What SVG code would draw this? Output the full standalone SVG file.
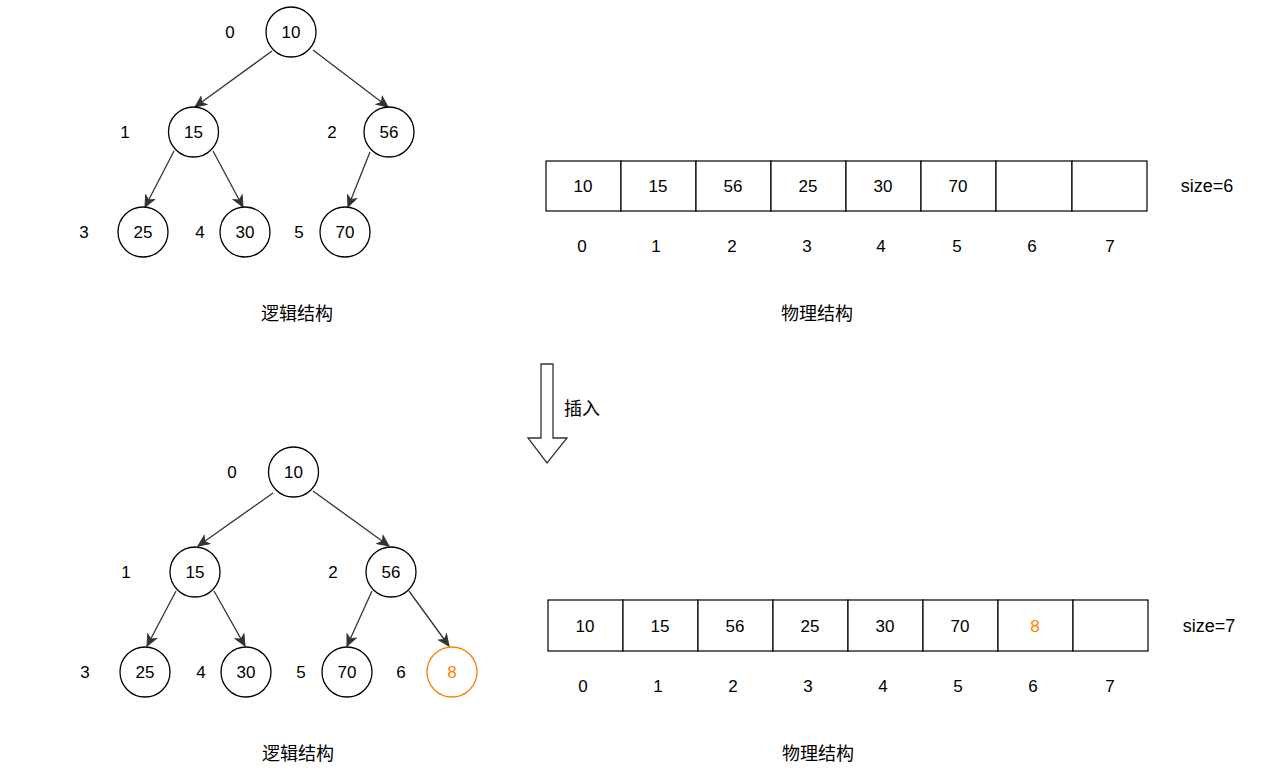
<svg xmlns="http://www.w3.org/2000/svg" width="1283" height="783" viewBox="0 0 1283 783">
<style>
.n circle{fill:#fff;stroke:#000;stroke-width:1.3}
.o circle{fill:#fff;stroke:#FF8000;stroke-width:1.3}
text{font-family:"Liberation Sans",Arial,sans-serif;font-size:17px;text-anchor:middle;dominant-baseline:central;fill:#000}
.o text,.orange{fill:#FF8000}
.cn{font-family:"Noto Sans CJK SC",sans-serif;font-size:18px}
.sz{font-size:18px}
.cell rect{fill:#fff;stroke:#000;stroke-width:1.2}
#edges line{stroke:#333;stroke-width:1.3;marker-end:url(#ah)}
</style>
<defs>
<marker id="ah" markerUnits="userSpaceOnUse" markerWidth="14" markerHeight="12" viewBox="0 0 14 12" refX="12" refY="6" orient="auto">
<path d="M12,6 L1,1 L4,6 L1,11 Z" fill="#333" stroke="#333" stroke-width="1"/>
</marker>
</defs>
<rect width="1283" height="783" fill="#fff"/>

<g id="edges">
<line x1="272" y1="51" x2="195" y2="107"/>
<line x1="313" y1="50" x2="388" y2="107"/>
<line x1="174" y1="151" x2="145" y2="207"/>
<line x1="213" y1="151" x2="243" y2="207"/>
<line x1="370" y1="152" x2="348" y2="207"/>
<line x1="273" y1="493" x2="198" y2="546"/>
<line x1="313" y1="491" x2="389" y2="546"/>
<line x1="176" y1="591" x2="147" y2="646"/>
<line x1="214" y1="591" x2="245" y2="646"/>
<line x1="372" y1="591" x2="347" y2="646"/>
<line x1="409" y1="591" x2="449" y2="646"/>
</g>

<!-- top tree -->
<g id="t1-n10" class="n"><circle cx="291" cy="32" r="25"/><text x="291" y="32">10</text></g>
<g id="t1-n15" class="n"><circle cx="193.5" cy="132" r="25"/><text x="193.5" y="132">15</text></g>
<g id="t1-n56" class="n"><circle cx="389" cy="132" r="25"/><text x="389" y="132">56</text></g>
<g id="t1-n25" class="n"><circle cx="143" cy="232" r="25"/><text x="143" y="232">25</text></g>
<g id="t1-n30" class="n"><circle cx="245" cy="232" r="25"/><text x="245" y="232">30</text></g>
<g id="t1-n70" class="n"><circle cx="345" cy="232" r="25"/><text x="345" y="232">70</text></g>
<g id="t1-idx">
<text x="230" y="32">0</text>
<text x="125" y="132">1</text>
<text x="332" y="132">2</text>
<text x="84" y="232">3</text>
<text x="200" y="232">4</text>
<text x="299" y="232">5</text>
</g>
<text class="cn" x="297" y="312">逻辑结构</text>

<!-- top array -->
<g id="a1" class="cell">
<rect x="546" y="161" width="75" height="50"/>
<rect x="621" y="161" width="75" height="50"/>
<rect x="696" y="161" width="75" height="50"/>
<rect x="771" y="161" width="75" height="50"/>
<rect x="846" y="161" width="75" height="50"/>
<rect x="921" y="161" width="75" height="50"/>
<rect x="996" y="161" width="76" height="50"/>
<rect x="1072" y="161" width="75" height="50"/>
<text x="583" y="186">10</text>
<text x="658" y="186">15</text>
<text x="733" y="186">56</text>
<text x="808" y="186">25</text>
<text x="883" y="186">30</text>
<text x="958" y="186">70</text>
</g>
<g id="a1-idx">
<text x="582" y="246">0</text>
<text x="656" y="246">1</text>
<text x="732" y="246">2</text>
<text x="807" y="246">3</text>
<text x="881" y="246">4</text>
<text x="957" y="246">5</text>
<text x="1032" y="246">6</text>
<text x="1110" y="246">7</text>
</g>
<text class="sz" x="1207" y="186">size=6</text>
<text class="cn" x="817" y="312">物理结构</text>

<!-- insert arrow -->
<g id="insert-arrow">
<path d="M541,364 L553,364 L553,438 L567,438 L547,463 L528,438 L541,438 Z" fill="#fff" stroke="#333" stroke-width="1.3"/>
<text class="cn" x="582" y="407">插入</text>
</g>

<!-- bottom tree -->
<g id="t2-n10" class="n"><circle cx="293.5" cy="472" r="25"/><text x="293.5" y="472">10</text></g>
<g id="t2-n15" class="n"><circle cx="195" cy="572" r="25"/><text x="195" y="572">15</text></g>
<g id="t2-n56" class="n"><circle cx="391" cy="572" r="25"/><text x="391" y="572">56</text></g>
<g id="t2-n25" class="n"><circle cx="145" cy="672" r="25"/><text x="145" y="672">25</text></g>
<g id="t2-n30" class="n"><circle cx="246" cy="672" r="25"/><text x="246" y="672">30</text></g>
<g id="t2-n70" class="n"><circle cx="347" cy="672" r="25"/><text x="347" y="672">70</text></g>
<g id="t2-n8" class="o"><circle cx="452" cy="672" r="25"/><text x="452" y="672">8</text></g>
<g id="t2-idx">
<text x="232" y="472">0</text>
<text x="126" y="572">1</text>
<text x="333" y="572">2</text>
<text x="85" y="672">3</text>
<text x="201" y="672">4</text>
<text x="301" y="672">5</text>
<text x="401" y="672">6</text>
</g>
<text class="cn" x="298" y="752">逻辑结构</text>

<!-- bottom array -->
<g id="a2" class="cell">
<rect x="548" y="600" width="75" height="51"/>
<rect x="623" y="600" width="75" height="51"/>
<rect x="698" y="600" width="75" height="51"/>
<rect x="773" y="600" width="75" height="51"/>
<rect x="848" y="600" width="75" height="51"/>
<rect x="923" y="600" width="75" height="51"/>
<rect x="998" y="600" width="75" height="51"/>
<rect x="1073" y="600" width="75" height="51"/>
<text x="585" y="626">10</text>
<text x="660" y="626">15</text>
<text x="735" y="626">56</text>
<text x="810" y="626">25</text>
<text x="885" y="626">30</text>
<text x="960" y="626">70</text>
<text class="orange" x="1035" y="626">8</text>
</g>
<g id="a2-idx">
<text x="583" y="686">0</text>
<text x="658" y="686">1</text>
<text x="733" y="686">2</text>
<text x="808" y="686">3</text>
<text x="883" y="686">4</text>
<text x="958" y="686">5</text>
<text x="1033" y="686">6</text>
<text x="1110" y="686">7</text>
</g>
<text class="sz" x="1209" y="626">size=7</text>
<text class="cn" x="818" y="752">物理结构</text>
</svg>
